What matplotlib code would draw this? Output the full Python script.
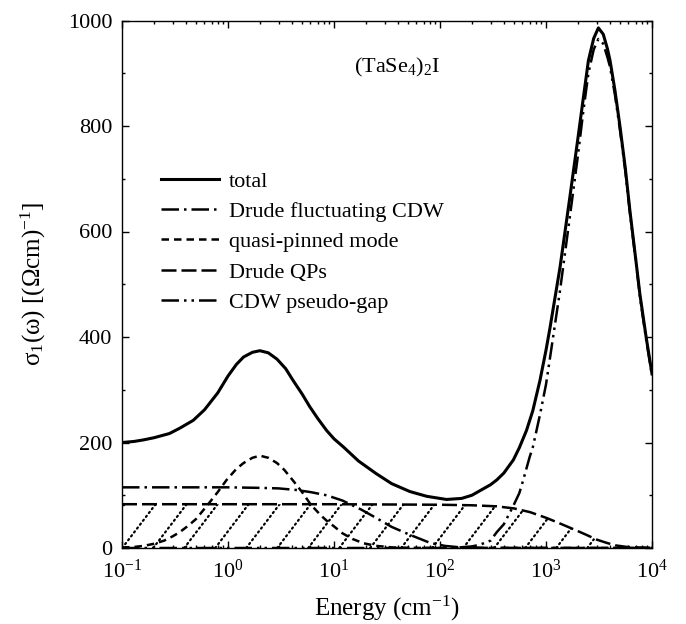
import matplotlib
matplotlib.use('Agg')
import matplotlib.pyplot as plt
from matplotlib.patches import Polygon
from matplotlib.ticker import MultipleLocator, LogLocator

plt.rcParams['font.family'] = ['Liberation Serif', 'DejaVu Serif']
plt.rcParams['mathtext.fontset'] = 'custom'
plt.rcParams['mathtext.rm'] = 'Liberation Serif'
plt.rcParams['mathtext.it'] = 'Liberation Serif:italic'
plt.rcParams['mathtext.bf'] = 'Liberation Serif:bold'

# values (energy in cm^-1, sigma in (Ohm cm)^-1)
total_x = [0.1, 0.13, 0.16, 0.2, 0.28, 0.35, 0.47, 0.6, 0.8, 1.0, 1.2, 1.4, 1.7, 2.0,
           2.4, 2.9, 3.5, 4.1, 5.0, 5.9, 7.0, 8.5, 10, 12.2, 17, 25, 35, 52, 75, 115,
           160, 200, 240, 300, 343, 400, 492, 560, 655, 750, 878, 1000, 1090, 1356,
           1684, 1995, 2239, 2512, 2818, 3120, 3467, 3802, 4020, 4467, 4990, 5600,
           6200, 7000, 7700, 8800, 10000]
total_y = [200, 202, 205, 209, 217, 227, 242, 262, 294, 326, 348, 362, 371, 374,
           370, 358, 340, 318, 292, 268, 246, 223, 207, 192, 165, 141, 122, 107, 98, 92,
           94, 100, 109, 120, 129, 142, 167, 190, 223, 260, 318, 375, 417, 532,
           667, 775, 850, 924, 966, 986, 974, 946, 924, 868, 799, 720,
           638, 550, 480, 400, 330]

fluct_x = [0.1, 1, 2, 3, 4.4, 6, 8.5, 12, 18, 25, 35, 52, 80, 111, 150, 250, 10000]
fluct_y = [115, 115, 114, 113, 110, 106, 100, 90, 73, 57, 40, 25, 10, 4, 1.5, 0.3, 0]

pinned_x = [0.1, 0.13, 0.16, 0.2, 0.25, 0.3, 0.35, 0.42, 0.5, 0.65, 0.8, 0.97, 1.2,
            1.4, 1.7, 2.0, 2.4, 2.9, 3.4, 4.1, 5.0, 6.0, 7.5, 8.5, 10, 12, 15, 19, 25,
            36, 60, 10000]
pinned_y = [1, 2, 4, 8, 14, 22, 30, 42, 55, 83, 106, 129, 150,
            161, 171, 175, 171, 161, 148, 128, 106, 83, 62, 52, 41, 28, 17, 9, 4,
            1, 0.2, 0]

qp_x = [0.1, 10, 100, 200, 343, 500, 707, 1010, 1300, 1570, 2000, 2400, 3000, 3700,
        4500, 5800, 7500, 10000]
qp_y = [83, 83, 82, 81, 79, 75, 68, 57, 48, 41, 32, 25, 16, 10,
        5, 2, 1, 0.5]

gap_x = [0.1, 100, 150, 200, 236, 300, 343, 400, 492, 560, 610, 700, 753, 878, 1000,
         1090, 1356, 1684, 1995, 2239, 2512, 2818, 3120, 3467, 3802, 4020, 4467,
         4990, 5600, 6200, 7000, 7700, 8800, 10000]
gap_y = [0, 0, 1, 3, 6, 14, 30, 45, 80, 104, 129, 172, 192, 253, 310,
         360, 488, 630, 742, 825, 900, 945, 965, 956, 930, 912, 860,
         792, 715, 634, 548, 476, 396, 327]

fig = plt.figure(figsize=(6.86, 6.24), dpi=100)
ax = fig.add_axes([122 / 686, 76 / 624, 530 / 686, 527.5 / 624])

ax.plot(total_x, total_y, color='k', lw=2.2, label='total')
ax.plot(fluct_x, fluct_y, color='k', lw=1.8, ls=(0, (7, 2, 1, 2)),
        label='Drude fluctuating CDW')
ax.plot(pinned_x, pinned_y, color='k', lw=1.8, ls=(0, (3, 2)),
        label='quasi-pinned mode')
ax.plot(qp_x, qp_y, color='k', lw=1.8, ls=(0, (6, 2)), label='Drude QPs')
ax.plot(gap_x, gap_y, color='k', lw=1.8, ls=(0, (7, 2, 1, 2, 1, 2)),
        label='CDW pseudo-gap')

# dotted hatching under the Drude QP curve
area = Polygon(list(zip(qp_x, qp_y)) + [(qp_x[-1], 0), (qp_x[0], 0)],
               closed=True, transform=ax.transData, facecolor='none', edgecolor='none')
ax.add_patch(area)
step = 31 / 530
rise = 0.76
s = -rise
while s < 1:
    ln, = ax.plot([s, s + rise], [0, 1], transform=ax.transAxes, color='k',
                  lw=1.6, ls=(0, (0.6, 1.6)), dash_capstyle='round')
    ln.set_clip_path(area)
    s += step

ax.set_xscale('log')
ax.set_xlim(0.1, 1e4)
ax.set_ylim(0, 1000)
ax.yaxis.set_major_locator(MultipleLocator(200))
ax.yaxis.set_minor_locator(MultipleLocator(100))
ax.xaxis.set_minor_locator(LogLocator(base=10, subs=range(2, 10), numticks=20))
ax.tick_params(which='both', direction='in', top=True, right=True, labelsize=16)
ax.tick_params(which='major', length=5, width=1)
ax.tick_params(which='minor', length=2.5, width=1)
ax.tick_params(axis='x', which='major', pad=8)
ax.tick_params(axis='y', which='major', pad=7)
for sp in ax.spines.values():
    sp.set_linewidth(1)

ax.set_xlabel('Energy (cm$^{-1}$)', fontsize=18, labelpad=8)
ax.set_ylabel('σ$_1$(ω) [(Ωcm)$^{-1}$]', fontsize=18, labelpad=14)
ax.text(0.438, 0.91, '(TaSe$_4$)$_2$I', transform=ax.transAxes, fontsize=16,
        ha='left', va='center')

ax.legend(loc='upper left', bbox_to_anchor=(161 / 686, 1 - 171 / 624),
          bbox_transform=fig.transFigure, frameon=False, fontsize=16,
          handlelength=2.6, handletextpad=0.45, labelspacing=0.44,
          borderpad=0, borderaxespad=0)

fig.savefig('out.png', dpi=100)
